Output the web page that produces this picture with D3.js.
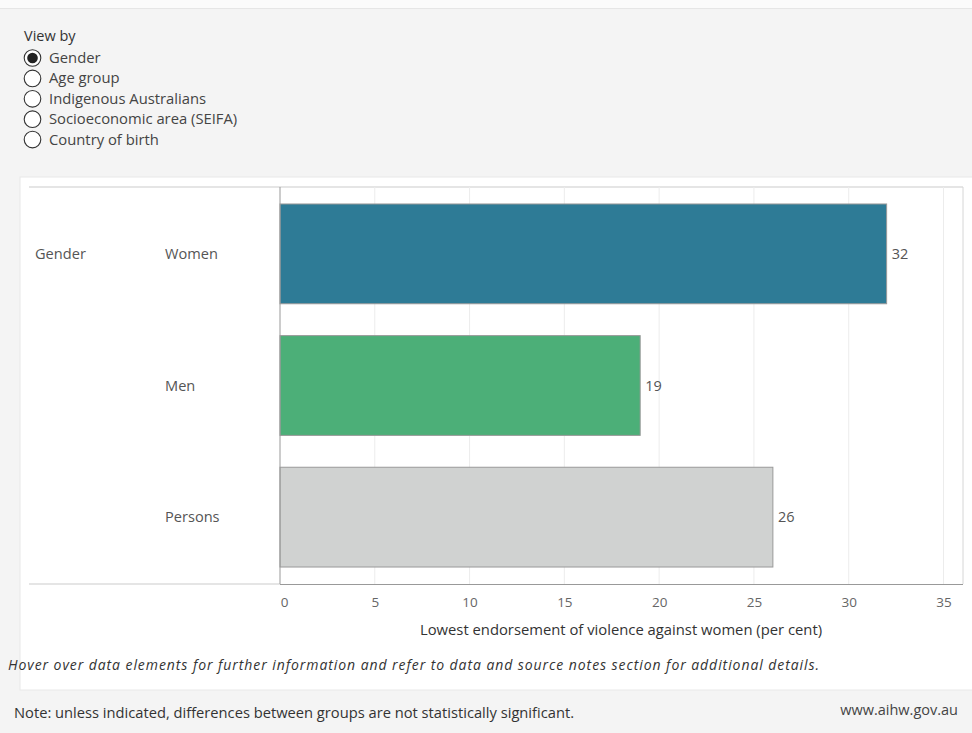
<!DOCTYPE html>
<html>
<head>
<meta charset="utf-8">
<script src="https://cdn.jsdelivr.net/npm/d3@7"></script>
<style>
  html, body { margin: 0; padding: 0; background: #f4f4f4; }
  svg { display: block; font-family: "Open Sans", Lato, sans-serif; }
</style>
</head>
<body>
<svg id="chart" width="972" height="733"></svg>
<script>
const viewOptions = ["Gender", "Age group", "Indigenous Australians", "Socioeconomic area (SEIFA)", "Country of birth"];
const selectedView = "Gender";
const groupLabel = "Gender";
const categories = ["Women", "Men", "Persons"];
const values = [32, 19, 26];
const barColors = ["#2e7b96", "#4caf78", "#d0d2d1"];
const xTicks = [0, 5, 10, 15, 20, 25, 30, 35];
const xTitle = "Lowest endorsement of violence against women (per cent)";
const hoverNote = "Hover over data elements for further information and refer to data and source notes section for additional details.";
const footNote = "Note: unless indicated, differences between groups are not statistically significant.";
const siteText = "www.aihw.gov.au";

(function () {
const svg = d3.select("#chart");

// background
svg.append("rect").attr("x", 0).attr("y", 0).attr("width", 972).attr("height", 733).attr("fill", "#f4f4f4");
svg.append("rect").attr("x", 0).attr("y", 0).attr("width", 972).attr("height", 8).attr("fill", "#fbfbfb");
svg.append("line").attr("x1", 0).attr("x2", 972).attr("y1", 8.5).attr("y2", 8.5).attr("stroke", "#e6e6e6");

// View by
svg.append("text").attr("x", 24).attr("y", 41).attr("font-size", 14.5).attr("fill", "#333")
  .text("View by");
const radios = svg.append("g");
viewOptions.forEach((o, i) => {
  const cy = 58 + i * 20.4;
  radios.append("circle").attr("cx", 32.5).attr("cy", cy).attr("r", 8.3)
    .attr("fill", "#fff").attr("stroke", "#333").attr("stroke-width", 1.1);
  if (o === selectedView) {
    radios.append("circle").attr("cx", 32.5).attr("cy", cy).attr("r", 5.3).attr("fill", "#222");
  }
  radios.append("text").attr("x", 49).attr("y", cy + 5).attr("font-size", 14.8).attr("fill", "#444").text(o);
});

// white panel
svg.append("rect").attr("x", 20).attr("y", 177).attr("width", 960).attr("height", 513)
  .attr("fill", "#fff").attr("stroke", "#e8e8e8");

const x0 = 280, x1 = 943.5;
const x = d3.scaleLinear().domain([0, 35]).range([x0, x1]);
const plotTop = 187, plotBottom = 584, rightEdge = 963;
const y = d3.scaleBand().domain(categories).range([plotTop, plotBottom]).paddingInner(0.242).paddingOuter(0.129);

// header and bottom lines on the left label area
svg.append("line").attr("x1", 29).attr("x2", rightEdge).attr("y1", plotTop).attr("y2", plotTop)
  .attr("stroke", "#dcdcdc").attr("stroke-width", 1.5);
svg.append("line").attr("x1", 29).attr("x2", x0).attr("y1", plotBottom).attr("y2", plotBottom)
  .attr("stroke", "#dcdcdc").attr("stroke-width", 1.5);

// gridlines
svg.append("g").selectAll("line").data(xTicks.filter(d => d > 0)).join("line")
  .attr("x1", d => x(d)).attr("x2", d => x(d)).attr("y1", plotTop).attr("y2", plotBottom)
  .attr("stroke", "#ececec").attr("stroke-width", 1);

// right border
svg.append("line").attr("x1", rightEdge).attr("x2", rightEdge).attr("y1", plotTop).attr("y2", plotBottom)
  .attr("stroke", "#d6d6d6");

// bars
svg.append("g").selectAll("rect").data(categories).join("rect")
  .attr("x", x(0)).attr("y", d => y(d))
  .attr("width", (d, i) => x(values[i]) - x(0)).attr("height", y.bandwidth())
  .attr("fill", (d, i) => barColors[i]).attr("stroke", "#999").attr("stroke-width", 1);

// value labels
svg.append("g").selectAll("text").data(categories).join("text")
  .attr("x", (d, i) => x(values[i]) + 5).attr("y", d => y(d) + y.bandwidth() / 2 + 5)
  .attr("font-size", 14.5).attr("fill", "#555").text((d, i) => values[i]);

// row labels
svg.append("g").selectAll("text").data(categories).join("text")
  .attr("x", 165).attr("y", d => y(d) + y.bandwidth() / 2 + 5)
  .attr("font-size", 14.6).attr("fill", "#555").text(d => d);
svg.append("text").attr("x", 35).attr("y", y(categories[0]) + y.bandwidth() / 2 + 5)
  .attr("font-size", 14.6).attr("fill", "#555").text(groupLabel);

// axis
const axis = d3.axisBottom(x).tickValues(xTicks).tickSize(0).tickPadding(13);
const ag = svg.append("g").attr("transform", `translate(0,${plotBottom})`).call(axis);
ag.select(".domain").attr("stroke", "#999").attr("d", `M${x0},0.5H${rightEdge}`);
ag.selectAll("text").attr("font-size", 13.5).attr("fill", "#666").attr("font-family", "'Open Sans', sans-serif");
ag.selectAll(".tick").filter(d => d === 0).select("text").attr("dx", 4);
// y axis line
svg.append("line").attr("x1", x0).attr("x2", x0).attr("y1", plotTop).attr("y2", plotBottom)
  .attr("stroke", "#999");

svg.append("text").attr("x", 621).attr("y", 635).attr("text-anchor", "middle")
  .attr("font-size", 14.8).attr("fill", "#333").text(xTitle);

// notes
svg.append("text").attr("x", 8).attr("y", 670).attr("font-size", 14).attr("font-style", "italic")
  .attr("letter-spacing", 0.93).attr("fill", "#333").text(hoverNote);
svg.append("text").attr("x", 14).attr("y", 718).attr("font-size", 14.7).attr("fill", "#333").text(footNote);
svg.append("text").attr("x", 958).attr("y", 715).attr("text-anchor", "end").attr("font-size", 14.5)
  .attr("fill", "#444").text(siteText);
})();
</script>
</body>
</html>
